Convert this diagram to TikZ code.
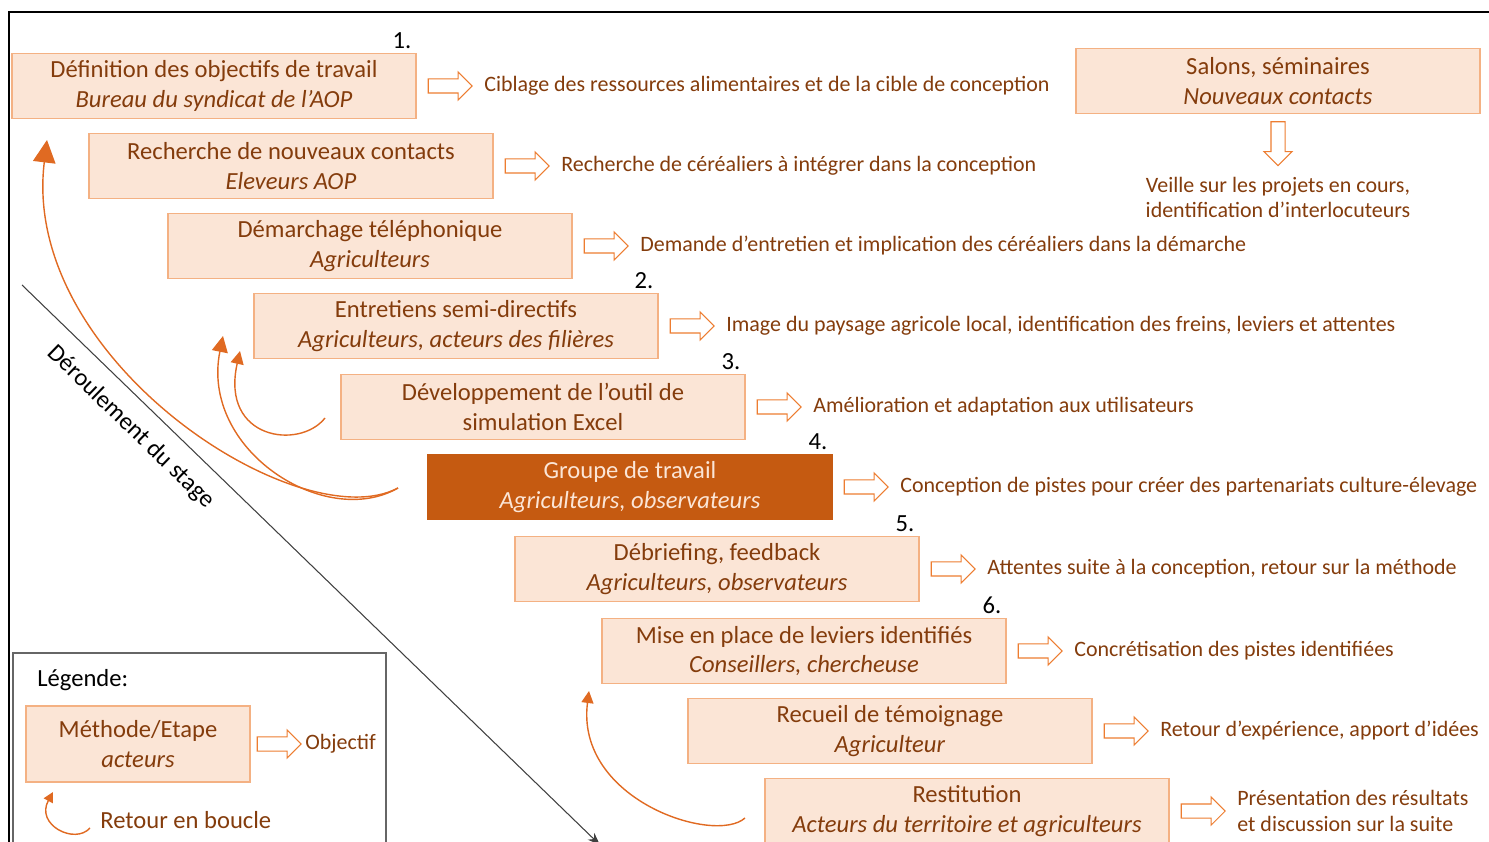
\documentclass[tikz,border=0pt]{standalone}
\usepackage{fontspec}
\setmainfont{Carlito}
\usetikzlibrary{positioning,shapes.arrows,arrows.meta}
\definecolor{peach}{HTML}{FBE5D6}
\definecolor{peachline}{HTML}{F4B183}
\definecolor{rust}{HTML}{C55A11}
\definecolor{brownish}{HTML}{843C0C}
\definecolor{orangeline}{HTML}{ED7D31}
\definecolor{loopcol}{HTML}{E06A22}
\begin{document}
\begin{tikzpicture}[font=\fontsize{14}{17}\selectfont,
  etape/.style={draw=peachline,fill=peach,line width=0.8pt,text=brownish,align=center,
    minimum width=8.08cm,minimum height=1.3cm,inner sep=2pt},
  fleche/.style={single arrow,draw=orangeline,fill=white,line width=0.6pt,
    minimum height=0.88cm,inner sep=0.13cm,single arrow head extend=0.14cm},
  objectif/.style={text=brownish,anchor=west,inner sep=0pt,align=left,
    font=\fontsize{12.5}{14.5}\selectfont},
  num/.style={inner sep=0pt,anchor=south east},
  boucle/.style={loopcol,line width=0.8pt,-{Triangle[length=#1,width=#1]}}]
\useasboundingbox (0,0) rectangle (29.78,-16.84);
% frame
\draw[line width=1pt] (0.18,-16.9) -- (0.18,-0.24) -- (29.9,-0.24);
% steps
\node[etape] (def) at (4.28,-1.72) {Définition des objectifs de travail\\\textit{Bureau du syndicat de l’AOP}};
\node[etape] (rech) at (5.82,-3.32) {Recherche de nouveaux contacts\\\textit{Eleveurs AOP}};
\node[etape] (demar) at (7.40,-4.92) {Démarchage téléphonique\\\textit{Agriculteurs}};
\node[etape] (entre) at (9.12,-6.52) {Entretiens semi-directifs\\\textit{Agriculteurs, acteurs des filières}};
\node[etape] (devel) at (10.86,-8.14) {Développement de l’outil de\\simulation Excel};
\node[etape,fill=rust,draw=rust,text=peach] (groupe) at (12.60,-9.74) {Groupe de travail\\\textit{Agriculteurs, observateurs}};
\node[etape] (debrief) at (14.34,-11.38) {Débriefing, feedback\\\textit{Agriculteurs, observateurs}};
\node[etape] (mise) at (16.08,-13.02) {Mise en place de leviers identifiés\\\textit{Conseillers, chercheuse}};
\node[etape] (recueil) at (17.80,-14.62) {Recueil de témoignage\\\textit{Agriculteur}};
\node[etape] (restit) at (19.34,-16.22) {Restitution\\\textit{Acteurs du territoire et agriculteurs}};
\node[etape] (salons) at (25.56,-1.62) {Salons, séminaires\\\textit{Nouveaux contacts}};
% numbers
\node[num,above left=0.08cm and 0.1cm of def.north east] {1.};
\node[num,above left=0.08cm and 0.1cm of entre.north east] {2.};
\node[num,above left=0.08cm and 0.1cm of devel.north east] {3.};
\node[num,above left=0.08cm and 0.1cm of groupe.north east] {4.};
\node[num,above left=0.08cm and 0.1cm of debrief.north east] {5.};
\node[num,above left=0.08cm and 0.1cm of mise.north east] {6.};
% objectives
\foreach \b/\t in {def/Ciblage des ressources alimentaires et de la cible de conception,
  rech/Recherche de céréaliers à intégrer dans la conception,
  demar/Demande d’entretien et implication des céréaliers dans la démarche,
  entre/{Image du paysage agricole local, identification des freins, leviers et attentes},
  devel/Amélioration et adaptation aux utilisateurs,
  groupe/Conception de pistes pour créer des partenariats culture-élevage,
  debrief/{Attentes suite à la conception, retour sur la méthode},
  mise/Concrétisation des pistes identifiées,
  recueil/{Retour d’expérience, apport d’idées},
  restit/{Présentation des résultats\\et discussion sur la suite}}{
  \node[fleche,right=0.22cm of \b] (f\b) {};
  \node[objectif,right=0.22cm of f\b] (o\b) {\t};
}
\node[fleche,rotate=-90,anchor=west] (fsalons) at ([yshift=-0.14cm]salons.south) {};
\node[objectif,align=center,anchor=north] (osalons) at ([yshift=-0.2cm]fsalons.tip) {Veille sur les projets en cours,\\identification d’interlocuteurs};
% feedback loops
\coordinate (g0) at (7.96,-9.76);
\coordinate (d0) at (6.50,-8.36);
\coordinate (r0) at (14.90,-16.36);
\coordinate (t1) at (0.94,-2.80);
\coordinate (t2) at (4.46,-6.72);
\coordinate (t3) at (4.80,-7.02);
\coordinate (t4) at (11.78,-13.82);
\draw[boucle=0.45cm] (g0) .. controls (6.0,-10.8) and (0.4,-7.2) .. (t1);
\draw[boucle=0.32cm] (g0) .. controls (6.5,-10.6) and (4.0,-9.0) .. (t2);
\draw[boucle=0.26cm] (d0) .. controls (6.0,-9.0) and (4.4,-8.8) .. (t3);
\draw[boucle=0.24cm] (r0) .. controls (14.3,-16.9) and (11.5,-16.0) .. (t4);
% timeline
\coordinate (s0) at (0.44,-5.70);
\coordinate (s1) at (12.0,-16.9);
\draw[black!75,line width=0.6pt,-{Stealth[length=0.25cm]}] (s0) -- (s1)
  node[pos=0.22,sloped,below=0.3cm,inner sep=0pt,text=black] (sl) {Déroulement du stage};
% legend
\draw[black!60,line width=0.8pt] (0.26,-17.0) -- (0.26,-13.06) -- (7.72,-13.06) -- (7.72,-17.0);
\node[anchor=west,inner sep=0pt] (leg) at (0.74,-13.60) {Légende:};
\node[etape,minimum width=4.48cm,minimum height=1.52cm] (lbox) at (2.76,-14.88) {Méthode/Etape\\\textit{acteurs}};
\node[fleche,right=0.12cm of lbox] (flbox) {};
\node[objectif,right=0.06cm of flbox] (olbox) {Objectif};
\coordinate (l0) at (1.80,-16.56);
\coordinate (l1) at (1.06,-15.84);
\draw[boucle=0.2cm] (l0) .. controls (1.5,-16.9) and (0.7,-16.5) .. (l1);
\node[anchor=west,inner sep=0pt,text=brownish] (lloop) at (2.0,-16.40) {Retour en boucle};
\end{tikzpicture}
\end{document}
